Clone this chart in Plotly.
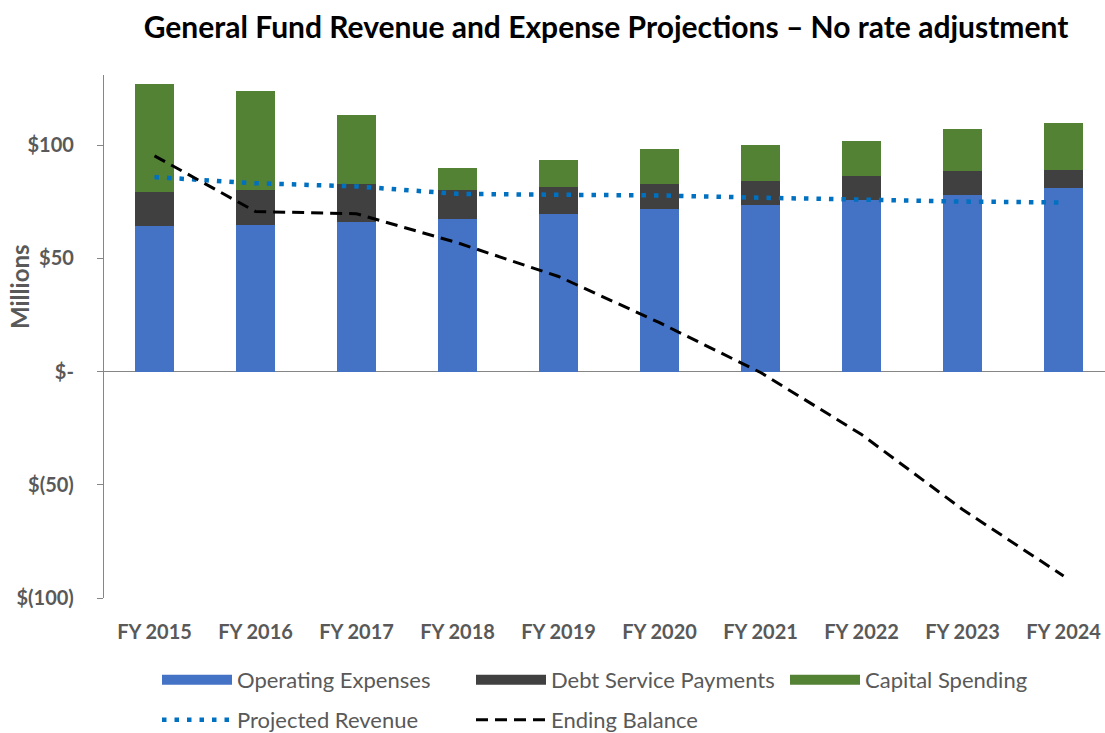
import plotly.graph_objects as go

years = ["FY 2015", "FY 2016", "FY 2017", "FY 2018", "FY 2019",
         "FY 2020", "FY 2021", "FY 2022", "FY 2023", "FY 2024"]
operating = [64.1, 64.8, 66.0, 67.5, 69.7, 71.8, 73.7, 75.9, 78.1, 80.9]
debt_service = [15.4, 15.5, 16.9, 12.8, 11.8, 11.1, 10.6, 10.7, 10.6, 8.2]
capital = [47.4, 43.7, 30.5, 9.8, 12.0, 15.6, 15.7, 15.4, 18.4, 20.6]
revenue = [85.9, 83.2, 81.8, 78.5, 78.1, 77.8, 76.8, 75.9, 75.1, 74.7]
ending_balance = [95.3, 70.7, 69.7, 56.9, 42.0, 21.6, -0.4, -27.8, -60.9, -90.3]

y_tickvals = [-100, -50, 0, 50, 100]
y_ticktext = ["$(100)", "$(50)", "$-", "$50", "$100"]

bar_series = [
    ("Operating Expenses", operating, "#4472C4"),
    ("Debt Service Payments", debt_service, "#404040"),
    ("Capital Spending", capital, "#548235"),
]

FONT = "Lato"
GRAY = "#595959"

fig = go.Figure()
for name, vals, color in bar_series:
    fig.add_trace(go.Bar(x=years, y=vals, name=name, legendgroup=name, showlegend=False,
                         marker=dict(color=color, line=dict(width=0))))
# wide legend swatches (Excel-style) linked to the bar traces
for name, vals, color in bar_series:
    fig.add_trace(go.Scatter(x=[None], y=[None], name=name, legendgroup=name, mode="lines",
                             line=dict(color=color, width=14), legend="legend",
                             hoverinfo="skip"))
fig.add_trace(go.Scatter(x=years, y=revenue, name="Projected Revenue", mode="lines",
                         line=dict(color="#0070C0", width=4.5, dash="4.5px,8px"),
                         legend="legend2"))
fig.add_trace(go.Scatter(x=years, y=ending_balance, name="Ending Balance", mode="lines",
                         line=dict(color="black", width=3, dash="12px,7px"),
                         legend="legend2"))

PLOT_L, PLOT_T, PLOT_W, PLOT_H = 104, 75, 1001, 523
PLOT_B = PLOT_T + PLOT_H

def px_x(px):
    return (px - PLOT_L) / PLOT_W

def px_y(py):
    return (PLOT_B - py) / PLOT_H

legend_common = dict(orientation="h", xanchor="left",
                     entrywidth=229, entrywidthmode="pixels", itemwidth=70,
                     font=dict(family=FONT, size=22, color=GRAY),
                     bgcolor="rgba(0,0,0,0)", traceorder="normal", borderwidth=0)

fig.update_layout(
    width=1105, height=733,
    margin=dict(l=PLOT_L, r=1105 - PLOT_L - PLOT_W, t=PLOT_T, b=733 - PLOT_B,
                autoexpand=False),
    paper_bgcolor="white", plot_bgcolor="white",
    barmode="stack", bargap=0.61,
    font=dict(family=FONT, color=GRAY),
    title=dict(text="<b>General Fund Revenue and Expense Projections \u2013 No rate adjustment</b>",
               font=dict(family=FONT, size=30, color="black"),
               x=px_x(606), xref="paper", xanchor="center",
               y=1 - 27 / 733, yref="container", yanchor="middle"),
    xaxis=dict(range=[-0.5, 9.41], showline=False, showgrid=False, ticks="",
               tickfont=dict(family=FONT, size=20, color=GRAY, weight="bold"),
               ticklabelstandoff=20, zeroline=False, automargin=False),
    yaxis=dict(range=[-100, 131], tickvals=y_tickvals, ticktext=y_ticktext,
               showline=True, linecolor="#868686", linewidth=1.3,
               ticks="outside", ticklen=6, tickcolor="#868686", tickwidth=1.3,
               showgrid=False, zeroline=True, zerolinecolor="#868686", zerolinewidth=1.3,
               tickfont=dict(family=FONT, size=20, color=GRAY, weight="bold"),
               ticklabelstandoff=19, automargin=False),
    legend=dict(x=px_x(157), y=px_y(680), yanchor="middle", **legend_common),
    legend2=dict(x=px_x(157), y=px_y(720), yanchor="middle", **legend_common),
    annotations=[dict(text="<b>Millions</b>", textangle=-90,
                      x=px_x(19), y=px_y(287), xref="paper", yref="paper",
                      xanchor="center", yanchor="middle", showarrow=False,
                      font=dict(family=FONT, size=24, color=GRAY))],
)

fig.write_html("out.html", config={"displayModeBar": False},
               post_script="document.body.style.margin='0';document.body.style.overflow='hidden';")
